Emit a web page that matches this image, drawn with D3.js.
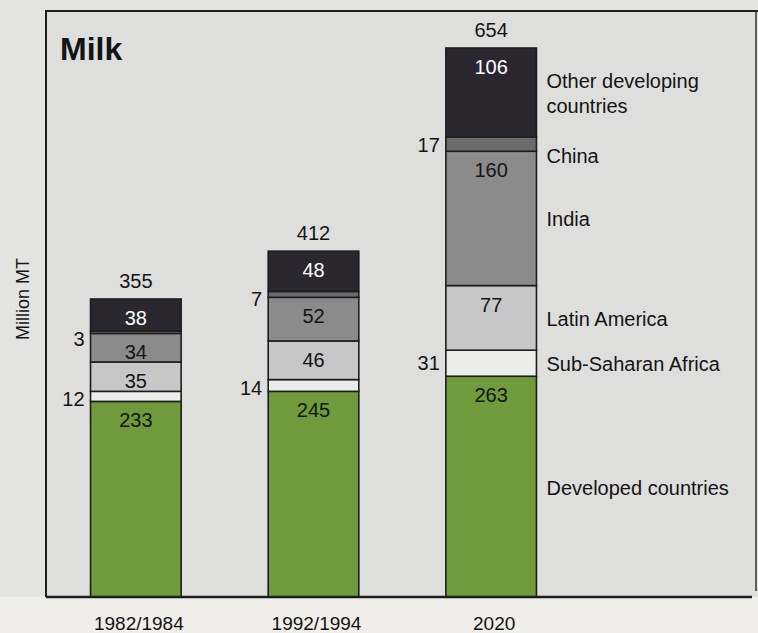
<!DOCTYPE html>
<html>
<head>
<meta charset="utf-8">
<script src="https://cdn.jsdelivr.net/npm/d3@7"></script>
<style>
  body { margin: 0; background: #ecebe7; }
  text { font-family: "Liberation Sans", Arial, Helvetica, sans-serif; fill: #141414; }
</style>
</head>
<body>
<div class="chart"></div>
<script>
var svgWidth = 758;
var svgHeight = 633;

// data
var periods = ["1982/1984", "1992/1994", "2020"];
var regions = ["Developed countries", "Sub-Saharan Africa", "Latin America", "India", "China", "Other developing countries"];
var developed = [233, 245, 263];
var subSaharan = [12, 14, 31];
var latinAmerica = [35, 46, 77];
var india = [34, 52, 160];
var china = [3, 7, 17];
var otherDeveloping = [38, 48, 106];
var totals = [355, 412, 654];

var colors = ["#6f9b3d", "#ececea", "#c7c7c7", "#8b8b8b", "#6b6b6b", "#2a2731"];
// segments too thin to hold their value get it on the left side
var outsideKeys = ["Sub-Saharan Africa", "China"];
var legendNudge = { "China": 11 };

var seriesValues = [developed, subSaharan, latinAmerica, india, china, otherDeveloping];
var table = periods.map(function(p, i) {
  var row = { period: p };
  regions.forEach(function(r, j) { row[r] = seriesValues[j][i]; });
  return row;
});

var frame = { left: 46, top: 11, right: 756, bottom: 597 };

var svg = d3.select(".chart")
  .append("svg")
  .attr("width", svgWidth)
  .attr("height", svgHeight);

// backgrounds
svg.append("rect").attr("width", svgWidth).attr("height", svgHeight).attr("fill", "#e3e3e1");
svg.append("rect").attr("x", 0).attr("y", frame.bottom).attr("width", svgWidth)
  .attr("height", svgHeight - frame.bottom).attr("fill", "#efeee9");
svg.append("rect").attr("x", frame.left).attr("y", frame.top)
  .attr("width", frame.right - frame.left).attr("height", frame.bottom - frame.top)
  .attr("fill", "#dededd");

var x = d3.scaleBand()
  .domain(periods)
  .range([47, 580])
  .paddingInner(0.49)
  .paddingOuter(0.245);

var y = d3.scaleLinear()
  .domain([0, 654])
  .range([frame.bottom, 48]);

var stack = d3.stack().keys(regions);
var stacked = stack(table);

var chart = svg.append("g");

var layers = chart.selectAll("g.layer")
  .data(stacked)
  .enter().append("g")
  .attr("class", "layer")
  .attr("fill", function(d, i) { return colors[i]; });

layers.selectAll("rect")
  .data(function(d) { return d; })
  .enter().append("rect")
  .attr("x", function(d) { return x(d.data.period); })
  .attr("y", function(d) { return y(d[1]); })
  .attr("width", x.bandwidth())
  .attr("height", function(d) { return y(d[0]) - y(d[1]); })
  .attr("stroke", "#1e1e1e")
  .attr("stroke-width", 1.6);

// value labels
layers.each(function(layer, li) {
  var key = layer.key;
  var g = d3.select(this);
  g.selectAll("text")
    .data(layer)
    .enter().append("text")
    .attr("x", function(d) {
      return outsideKeys.indexOf(key) >= 0 ? x(d.data.period) - 6 : x(d.data.period) + x.bandwidth() / 2;
    })
    .attr("y", function(d) {
      var top = y(d[1]), mid = (y(d[0]) + y(d[1])) / 2;
      return outsideKeys.indexOf(key) >= 0 ? Math.max(top + 15, mid + 7) : top + 26;
    })
    .attr("text-anchor", outsideKeys.indexOf(key) >= 0 ? "end" : "middle")
    .style("font-size", "20px")
    .style("fill", li === regions.length - 1 ? "#ffffff" : "#141414")
    .text(function(d) { return d.data[key]; });
});

// totals above bars
chart.selectAll("text.total")
  .data(periods)
  .enter().append("text")
  .attr("class", "total")
  .attr("x", function(d) { return x(d) + x.bandwidth() / 2; })
  .attr("y", function(d, i) { return y(totals[i]) - 11; })
  .attr("text-anchor", "middle")
  .style("font-size", "20px")
  .text(function(d, i) { return totals[i]; });

// region labels to the right of the last bar
var last = periods.length - 1;
var legend = chart.append("g");
stacked.forEach(function(layer) {
  var d = layer[last];
  var mid = (y(d[0]) + y(d[1])) / 2 + 8 + (legendNudge[layer.key] || 0);
  var lines = layer.key === "Other developing countries" ? ["Other developing", "countries"] : [layer.key];
  var t = legend.append("text")
    .attr("x", x(periods[last]) + x.bandwidth() + 10)
    .attr("y", mid - (lines.length - 1) * 12.5)
    .style("font-size", "20px");
  lines.forEach(function(l, k) {
    t.append("tspan")
      .attr("x", x(periods[last]) + x.bandwidth() + 10)
      .attr("dy", k === 0 ? 0 : 25)
      .text(l);
  });
});

// x axis
var bottomAxis = d3.axisBottom(x).tickSize(0).tickPadding(20);
var xAxis = chart.append("g")
  .attr("transform", "translate(3," + frame.bottom + ")")
  .call(bottomAxis);
xAxis.select(".domain").remove();
xAxis.selectAll("text")
  .style("font-size", "19px")
  .style("font-family", "'Liberation Sans', Arial, sans-serif")
  .attr("fill", "#141414");

// frame
svg.append("path")
  .attr("d", "M" + frame.left + "," + frame.bottom + "V" + frame.top + "H" + (frame.right + 2))
  .attr("fill", "none").attr("stroke", "#1e1e1e").attr("stroke-width", 2);
svg.append("path")
  .attr("d", "M" + frame.right + "," + frame.top + "V" + (frame.bottom - 6))
  .attr("fill", "none").attr("stroke", "#333").attr("stroke-width", 1.5);
svg.append("line")
  .attr("x1", frame.left).attr("x2", 752)
  .attr("y1", frame.bottom).attr("y2", frame.bottom)
  .attr("stroke", "#1e1e1e").attr("stroke-width", 2.5);

// title and y label
svg.append("text")
  .attr("x", 60)
  .attr("y", 60)
  .style("font-size", "32px")
  .style("font-weight", "bold")
  .text("Milk");

svg.append("text")
  .attr("transform", "translate(29," + 299 + ") rotate(-90)")
  .attr("text-anchor", "middle")
  .style("font-size", "18px")
  .text("Million MT");
</script>
</body>
</html>
